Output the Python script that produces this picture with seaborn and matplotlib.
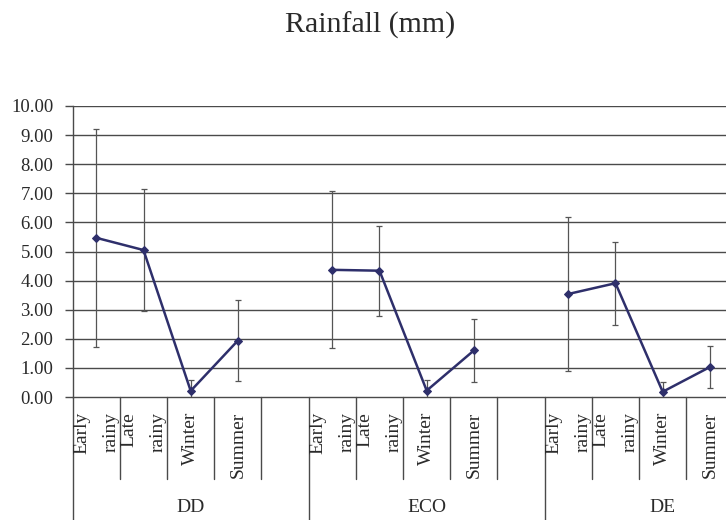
import matplotlib
matplotlib.use("Agg")
import matplotlib.pyplot as plt
import seaborn as sns
import pandas as pd
import numpy as np

sites = ["DD", "ECO", "DE"]
seasons = ["Early\nrainy", "Late\nrainy", "Winter", "Summer"]
dd_mean = [5.47, 5.05, 0.21, 1.94]
dd_err = [3.74, 2.10, 0.36, 1.38]
eco_mean = [4.37, 4.34, 0.22, 1.60]
eco_err = [2.70, 1.55, 0.37, 1.07]
de_mean = [3.54, 3.91, 0.18, 1.03]
de_err = [2.64, 1.42, 0.33, 0.73]
yticks = [0, 1, 2, 3, 4, 5, 6, 7, 8, 9, 10]

means = [dd_mean, eco_mean, de_mean]
errs = [dd_err, eco_err, de_err]
slots_per_group = len(seasons) + 1

rows = []
for g, site in enumerate(sites):
    for s, season in enumerate(seasons):
        rows.append({"site": site, "season": season,
                     "pos": g * slots_per_group + s + 0.5,
                     "mean": means[g][s], "err": errs[g][s]})
df = pd.DataFrame(rows)

sns.set_theme(style="white")
plt.rcParams["font.family"] = ["Liberation Serif", "DejaVu Serif"]

W, H = 726, 520
fig = plt.figure(figsize=(W / 100, H / 100), dpi=100)
left_px, right_px, top_px, bot_px = 72.7, 780.7, 106, 397
ax = fig.add_axes([left_px / W, 1 - bot_px / H, (right_px - left_px) / W, (bot_px - top_px) / H])

line_col = "#2E2F6B"
grid_col = "#4a4a4a"
txt_col = "#2a2a2a"

for y in yticks[1:]:
    ax.axhline(y, color=grid_col, lw=1.0, zorder=0)

ax.errorbar(df["pos"], df["mean"], yerr=df["err"], fmt="none",
            ecolor="#555555", elinewidth=0.9, capsize=2.3, capthick=0.9, zorder=2)

sns.lineplot(data=df, x="pos", y="mean", units="site", estimator=None,
             color=line_col, lw=1.8, marker="D", markersize=4.2,
             markeredgecolor=line_col, ax=ax, legend=False, zorder=3, sort=False)

n_slots = slots_per_group * len(sites)
ax.set_xlim(0, n_slots)
ax.set_ylim(0, 10)
ax.set_yticks(yticks)
ax.set_yticklabels([f"{v:.2f}" for v in yticks], fontsize=13.5, color=txt_col)
ax.set_xticks([])
ax.set_xlabel("")
ax.set_ylabel("")
ax.tick_params(axis="y", direction="out", length=6, width=1, color=grid_col, pad=8, left=True)
for sp in ["top", "right"]:
    ax.spines[sp].set_visible(False)
for sp in ["left", "bottom"]:
    ax.spines[sp].set_color(grid_col)
    ax.spines[sp].set_linewidth(1.0)

# category axis structure
px_per_axes_y = (bot_px - top_px)
def ay(px):  # pixel y (from top) -> axes fraction
    return (bot_px - px) / px_per_axes_y

trans = ax.get_xaxis_transform()
for i in range(n_slots + 1):
    if i % slots_per_group == 0:
        ax.plot([i, i], [0, ay(530)], transform=trans, color=grid_col, lw=1.0, clip_on=False)
    else:
        ax.plot([i, i], [0, ay(479)], transform=trans, color=grid_col, lw=1.0, clip_on=False)

for _, r in df.iterrows():
    ax.text(r["pos"], ay(412), r["season"], transform=trans, rotation=90,
            rotation_mode="anchor", ha="right", va="center", multialignment="right",
            linespacing=1.95, fontsize=14, color=txt_col, clip_on=False)

for g, site in enumerate(sites):
    ax.text(g * slots_per_group + slots_per_group / 2, ay(507), site, transform=trans,
            ha="center", va="center", fontsize=14, color=txt_col, clip_on=False)

fig.text(370 / W, 1 - 25 / H, "Rainfall (mm)", ha="center", va="center",
         fontsize=21.5, color=txt_col)

fig.savefig("out.png", dpi=100)
